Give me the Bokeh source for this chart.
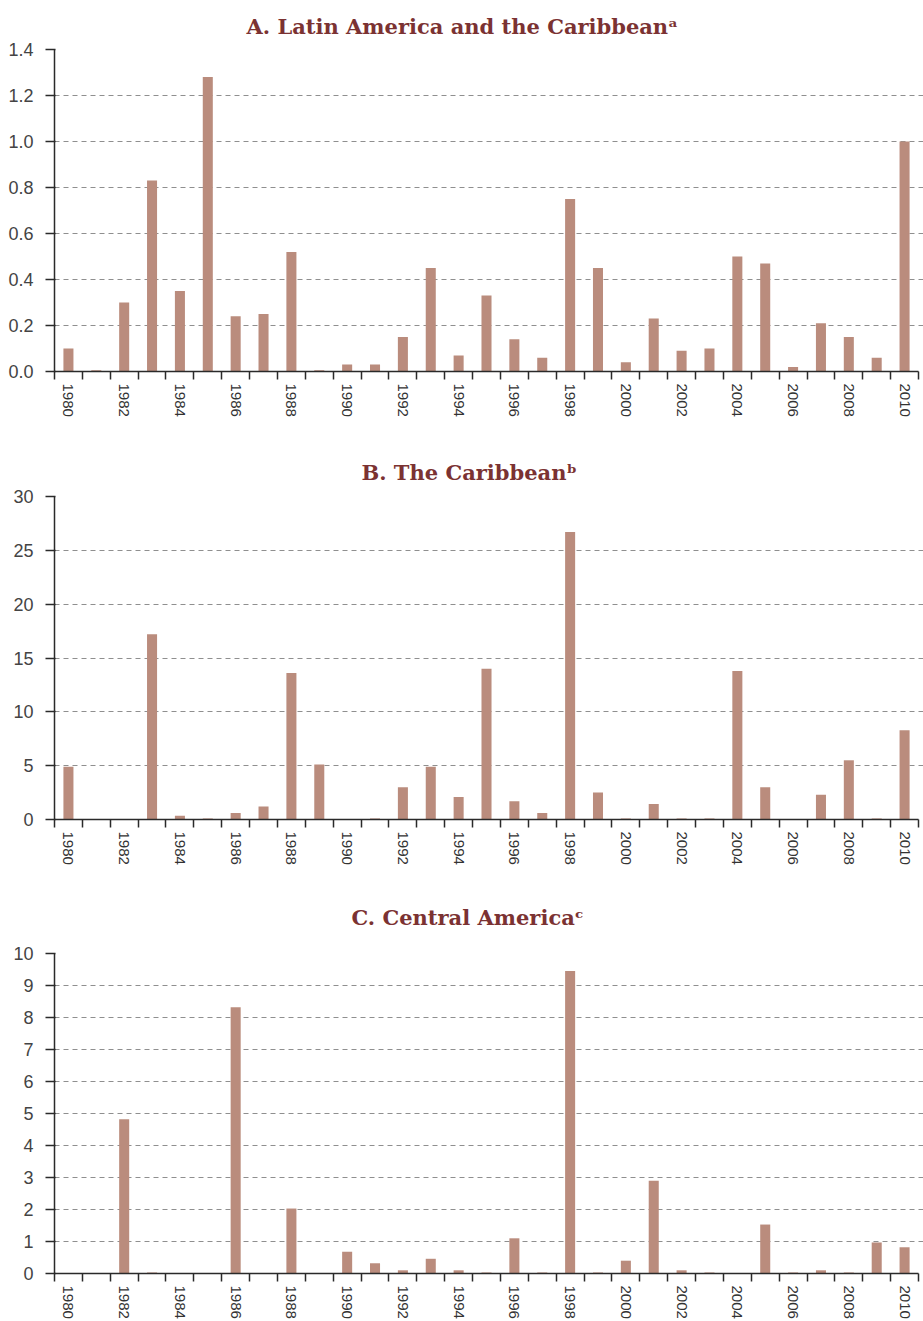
from bokeh.plotting import figure
from bokeh.layouts import column
from bokeh.models import Range1d, FixedTicker
from bokeh.embed import file_html
from bokeh.resources import INLINE

# ---------------- data ----------------
years = list(range(1980, 2011))

latam = [0.10, 0.005, 0.30, 0.83, 0.35, 1.28, 0.24, 0.25, 0.52, 0.005,
         0.03, 0.03, 0.15, 0.45, 0.07, 0.33, 0.14, 0.06, 0.75, 0.45,
         0.04, 0.23, 0.09, 0.10, 0.50, 0.47, 0.02, 0.21, 0.15, 0.06, 1.00]

caribbean = [4.9, 0.0, 0.0, 17.2, 0.35, 0.1, 0.6, 1.2, 13.6, 5.1,
             0.0, 0.1, 3.0, 4.9, 2.1, 14.0, 1.7, 0.6, 26.7, 2.5,
             0.1, 1.45, 0.1, 0.1, 13.8, 3.0, 0.0, 2.3, 5.5, 0.1, 8.3]

central = [0.0, 0.0, 4.82, 0.03, 0.0, 0.0, 8.32, 0.0, 2.03, 0.0,
           0.68, 0.32, 0.10, 0.46, 0.10, 0.03, 1.10, 0.03, 9.45, 0.03,
           0.40, 2.90, 0.10, 0.03, 0.0, 1.53, 0.03, 0.10, 0.03, 0.97, 0.82]

year_label_ticks = list(range(1980, 2011, 2))

titles = ["A. Latin America and the Caribbean\u1d43",
          "B. The Caribbean\u1d47",
          "C. Central America\u1d9c"]

yticks_a = [0.0, 0.2, 0.4, 0.6, 0.8, 1.0, 1.2, 1.4]
ylabels_a = ["0.0", "0.2", "0.4", "0.6", "0.8", "1.0", "1.2", "1.4"]
yticks_b = [0, 5, 10, 15, 20, 25, 30]
ylabels_b = ["0", "5", "10", "15", "20", "25", "30"]
yticks_c = [0, 1, 2, 3, 4, 5, 6, 7, 8, 9, 10]
ylabels_c = ["0", "1", "2", "3", "4", "5", "6", "7", "8", "9", "10"]

# ---------------- style ----------------
BAR = "#BA8C7D"
TITLE_COLOR = "#7B3232"
AXIS = "#2a2a2a"
GRID = "#8f8f8f"
SANS = "Liberation Sans, Arial, Helvetica, sans-serif"

W = 923


def make_panel(values, title, yticks, ylabels, height, top, frame_h, left,
               title_standoff, title_offset):
    frame_w = W - left
    per_cat = (918 - left) / len(years)
    x_end = years[0] - 0.5 + frame_w / per_cat
    p = figure(width=W, height=height, output_backend="svg",
               toolbar_location=None, title=title,
               x_range=Range1d(years[0] - 0.5, x_end),
               y_range=Range1d(yticks[0], yticks[-1]),
               min_border_left=left, min_border_right=0,
               min_border_top=top, min_border_bottom=height - top - frame_h)
    p.outline_line_color = None
    p.background_fill_color = "white"
    p.border_fill_color = "white"

    p.title.align = "left"
    p.title.offset = title_offset
    p.title.text_font = "DejaVu Serif"
    p.title.text_font_style = "bold"
    p.title.text_font_size = "21px"
    p.title.text_color = TITLE_COLOR
    p.title.standoff = title_standoff

    p.vbar(x=years, top=values, width=0.36, fill_color=BAR, line_color=None)

    # x axis
    xa = p.xaxis[0]
    bounds = [y - 0.5 for y in years] + [years[-1] + 0.5]
    xa.ticker = FixedTicker(ticks=year_label_ticks, minor_ticks=bounds)
    xa.bounds = (years[0] - 0.5, years[-1] + 0.5)
    xa.major_tick_out = 0
    xa.major_tick_in = 0
    xa.major_tick_line_color = None
    xa.minor_tick_out = 8
    xa.minor_tick_in = 0
    xa.minor_tick_line_color = AXIS
    xa.minor_tick_line_width = 1.5
    xa.axis_line_color = AXIS
    xa.axis_line_width = 1.5
    xa.major_label_orientation = "vertical"
    xa.major_label_standoff = 4
    xa.major_label_text_font = SANS
    xa.major_label_text_font_size = "15px"
    xa.major_label_text_color = "#333333"

    # y axis
    ya = p.yaxis[0]
    ya.ticker = FixedTicker(ticks=yticks, minor_ticks=[])
    ya.major_label_overrides = {t: l for t, l in zip(yticks, ylabels)}
    ya.major_tick_out = 9
    ya.major_tick_in = 1
    ya.major_tick_line_color = AXIS
    ya.major_tick_line_width = 1.5
    ya.minor_tick_line_color = None
    ya.axis_line_color = AXIS
    ya.axis_line_width = 1.5
    ya.major_label_standoff = 12
    ya.major_label_text_font = SANS
    ya.major_label_text_font_size = "18px"
    ya.major_label_text_color = "#444444"

    p.xgrid.grid_line_color = None
    p.ygrid.grid_line_color = GRID
    p.ygrid.grid_line_dash = "5 4"
    p.ygrid.grid_line_width = 1.2
    return p


pa = make_panel(latam, titles[0], yticks_a, ylabels_a,
                height=444, top=49, frame_h=322, left=54,
                title_standoff=21, title_offset=192)
pb = make_panel(caribbean, titles[1], yticks_b, ylabels_b,
                height=434, top=52, frame_h=323, left=51,
                title_standoff=24, title_offset=307)
pc = make_panel(central, titles[2], yticks_c, ylabels_c,
                height=443, top=75, frame_h=320, left=51,
                title_standoff=48, title_offset=297)

layout = column(pa, pb, pc, spacing=0)
open("out.html", "w").write(file_html(layout, INLINE))
